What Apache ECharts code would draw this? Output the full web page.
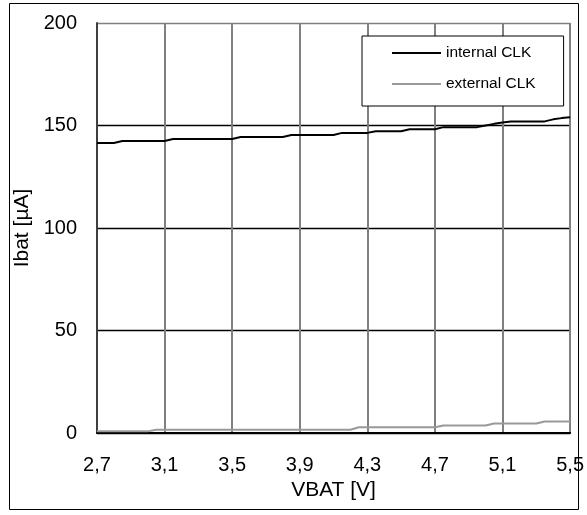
<!DOCTYPE html>
<html>
<head>
<meta charset="utf-8">
<script src="https://cdn.jsdelivr.net/npm/echarts@6/dist/echarts.min.js"></script>
<style>
html,body{margin:0;padding:0;background:#fff;}
#c{width:587px;height:515px;}
</style>
</head>
<body>
<div id="c"></div>
<script>
var vbat = [2.70,2.75,2.80,2.85,2.90,2.95,3.00,3.05,3.10,3.15,3.20,3.25,3.30,3.35,3.40,3.45,3.50,3.55,3.60,3.65,3.70,3.75,3.80,3.85,3.90,3.95,4.00,4.05,4.10,4.15,4.20,4.25,4.30,4.35,4.40,4.45,4.50,4.55,4.60,4.65,4.70,4.75,4.80,4.85,4.90,4.95,5.00,5.05,5.10,5.15,5.20,5.25,5.30,5.35,5.40,5.45,5.50];
var internalCLK = [141.5,141.5,141.5,
  142.4,142.4,142.4,142.4,142.4,142.4,
  143.4,143.4,143.4,143.4,143.4,143.4,143.4,143.4,
  144.4,144.4,144.4,144.4,144.4,144.4,
  145.4,145.4,145.4,145.4,145.4,145.4,
  146.4,146.4,146.4,146.4,
  147.2,147.2,147.2,147.2,
  148.2,148.2,148.2,148.2,
  149.2,149.2,149.2,149.2,149.2,
  150.0,150.8,151.5,
  152.0,152.0,152.0,152.0,152.0,
  153.0,153.6,154.0];
var externalCLK = [0.8,0.8,0.8,0.8,0.8,0.8,0.8,
  1.6,1.6,1.6,1.6,1.6,1.6,1.6,1.6,1.6,1.6,1.6,1.6,1.6,1.6,1.6,1.6,1.6,1.6,1.6,1.6,1.6,1.6,1.6,1.6,
  2.8,2.8,2.8,2.8,2.8,2.8,2.8,2.8,2.8,2.8,
  3.7,3.7,3.7,3.7,3.7,3.7,
  4.6,4.6,4.6,4.6,4.6,4.6,
  5.6,5.6,5.6,5.6];
var seriesNames = ['internal CLK','external CLK'];
var xName = 'VBAT [V]';
var yName = 'Ibat [µA]';

function pairs(xs, ys){ return xs.map(function(x,i){ return [x, ys[i]]; }); }

var font = 'Liberation Sans, Arial, sans-serif';
var chart = echarts.init(document.getElementById('c'));
chart.setOption({
  animation: false,
  backgroundColor: '#fff',
  textStyle: {fontFamily: font, color: '#000'},
  grid: {left: 97, right: 16, top: 23, bottom: 82, containLabel: false},
  legend: {
    orient: 'vertical',
    left: 362, top: 36,
    borderColor: '#000', borderWidth: 1,
    backgroundColor: '#fff',
    padding: [9, 28, 14, 30],
    itemGap: 15,
    itemWidth: 49, itemHeight: 2,
    itemTextGap: 5,
    icon: 'rect',
    textStyle: {fontFamily: font, fontSize: 15.5, color: '#000'},
    data: seriesNames
  },
  xAxis: {
    type: 'value', min: 2.7, max: 5.5, interval: 0.4,
    name: xName, nameLocation: 'middle', nameGap: 31,
    nameTextStyle: {fontFamily: font, fontSize: 21, color: '#000'},
    axisLine: {show: true, lineStyle: {color: '#000', width: 2}},
    axisTick: {show: false},
    axisLabel: {fontFamily: font, fontSize: 20, color: '#000', margin: 22,
      formatter: function(v){ return (Math.round(v*10)/10).toFixed(1).replace('.', ','); }},
    splitLine: {show: true, lineStyle: {color: '#808080', width: 2}}
  },
  yAxis: {
    type: 'value', min: 0, max: 200, interval: 50,
    name: yName, nameLocation: 'middle', nameGap: 64, nameRotate: 90,
    nameTextStyle: {fontFamily: font, fontSize: 21, color: '#000'},
    axisLine: {show: true, lineStyle: {color: '#404040', width: 2}},
    axisTick: {show: false},
    axisLabel: {fontFamily: font, fontSize: 20, color: '#000', margin: 20},
    splitLine: {show: true, lineStyle: {color: ['#000','#000','#000','#000','#808080'], width: 1.3}}
  },
  series: [
    {name: seriesNames[0], type: 'line', data: pairs(vbat, internalCLK), showSymbol: false, symbol: 'none',
     lineStyle: {color: '#000', width: 2}, itemStyle: {color: '#000'}},
    {name: seriesNames[1], type: 'line', data: pairs(vbat, externalCLK), showSymbol: false, symbol: 'none',
     lineStyle: {color: '#999', width: 2}, itemStyle: {color: '#999'}}
  ],
  graphic: [{type: 'rect', shape: {x: 9.5, y: 3.5, width: 569, height: 506},
    style: {fill: 'none', stroke: '#000', lineWidth: 1}, silent: true, z: 100}]
});
</script>
</body>
</html>
